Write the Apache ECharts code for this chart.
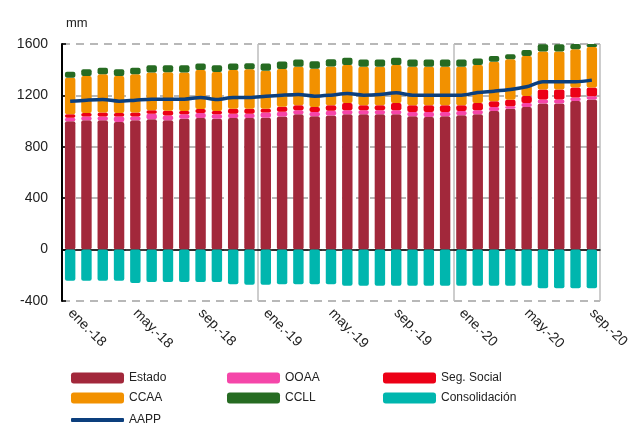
<!DOCTYPE html>
<html>
<head>
<meta charset="utf-8">
<script src="https://cdn.jsdelivr.net/npm/echarts@6/dist/echarts.min.js"></script>
<style>
  html, body { margin: 0; padding: 0; background: #fff; }
  #chart { width: 632px; height: 423px; }
</style>
</head>
<body>
<div id="chart"></div>
<script>
var months = ['ene.', 'feb.', 'mar.', 'abr.', 'may.', 'jun.', 'jul.', 'ago.', 'sep.', 'oct.', 'nov.', 'dic.'];
var categories = [];
['18', '19', '20'].forEach(function (yy) {
  months.forEach(function (m) { categories.push(m + '-' + yy); });
});
categories = categories.slice(0, 33);

var estado = [998, 1006, 1006, 993, 1006, 1014, 1006, 1019, 1024, 1019, 1024, 1024,
  1027, 1035, 1053, 1037, 1043, 1053, 1053, 1053, 1053, 1037, 1032, 1037,
  1045, 1053, 1079, 1097, 1110, 1137, 1137, 1157, 1168];
var ooaa = [29, 29, 29, 42, 29, 44, 37, 34, 39, 34, 34, 34,
  39, 37, 31, 34, 37, 31, 31, 31, 31, 34, 39, 34,
  34, 31, 31, 18, 31, 31, 31, 26, 26];
var segSocial = [26, 29, 31, 29, 31, 26, 37, 26, 31, 26, 39, 39,
  31, 39, 39, 39, 44, 57, 39, 39, 57, 52, 52, 52,
  44, 57, 44, 52, 55, 78, 78, 78, 68];
var ccaa = [285, 287, 298, 287, 298, 295, 300, 300, 303, 303, 300, 306,
  295, 295, 300, 298, 300, 295, 300, 300, 295, 300, 300, 300,
  300, 295, 308, 314, 311, 295, 295, 298, 314];
var ccll = [47, 52, 52, 52, 52, 55, 55, 55, 52, 52, 52, 47,
  57, 57, 57, 57, 57, 57, 57, 57, 57, 57, 57, 57,
  57, 52, 44, 39, 47, 57, 57, 55, 55];
var consolidacion = [-243, -243, -243, -243, -259, -253, -253, -253, -253, -253, -269, -274,
  -274, -269, -269, -269, -269, -282, -282, -282, -282, -282, -282, -282,
  -282, -282, -282, -282, -282, -300, -300, -300, -300];
var aapp = [1155, 1163, 1168, 1155, 1163, 1171, 1171, 1171, 1184, 1168, 1184, 1184,
  1194, 1202, 1207, 1194, 1202, 1215, 1202, 1207, 1220, 1202, 1202, 1202,
  1202, 1223, 1233, 1246, 1267, 1306, 1306, 1306, 1319];

var yTicks = [-400, 0, 400, 800, 1200, 1600];

var colors = {
  'Estado': '#A2283B',
  'OOAA': '#F546A9',
  'Seg. Social': '#EC0016',
  'CCAA': '#F29100',
  'CCLL': '#266B22',
  'Consolidación': '#00B6AE',
  'AAPP': '#0C3F7D'
};

var chart = echarts.init(document.getElementById('chart'));

function barSeries(name, data) {
  return {
    name: name,
    type: 'bar',
    stack: 'total',
    barWidth: '64%',
    data: data,
    itemStyle: { color: colors[name], borderRadius: 2 },
    z: 3
  };
}

function legendAt(name, left, top, isLine) {
  return {
    data: [name],
    left: left,
    top: top,
    orient: 'horizontal',
    icon: 'roundRect',
    itemWidth: 53,
    itemHeight: isLine ? 4 : 11,
    itemGap: 4,
    selectedMode: false,
    textStyle: { fontFamily: 'Liberation Sans', fontSize: 12, color: '#222' }
  };
}

var option = {
  animation: false,
  title: {
    text: 'mm',
    left: 61,
    top: 12,
    textStyle: { fontFamily: 'Liberation Sans', fontSize: 13, fontWeight: 'normal', color: '#222' }
  },
  grid: { left: 62, right: 32, top: 44, bottom: 122 },
  legend: [
    legendAt('Estado', 66, 367),
    legendAt('OOAA', 222, 367),
    legendAt('Seg. Social', 378, 367),
    legendAt('CCAA', 66, 387),
    legendAt('CCLL', 222, 387),
    legendAt('Consolidación', 378, 387),
    legendAt('AAPP', 66, 409, true)
  ],
  xAxis: {
    type: 'category',
    data: categories,
    boundaryGap: true,
    axisLine: { onZero: true, lineStyle: { color: '#000', width: 1.5 } },
    axisTick: { show: false },
    axisLabel: {
      interval: 3,
      rotate: -45,
      margin: 10,
      fontFamily: 'Liberation Sans',
      fontSize: 14,
      color: '#222'
    },
    splitLine: {
      show: true,
      interval: function (index) { return index === 12 || index === 24; },
      lineStyle: { color: '#bdbdbd', width: 1.5 }
    }
  },
  yAxis: {
    type: 'value',
    min: yTicks[0],
    max: yTicks[yTicks.length - 1],
    interval: 400,
    axisLine: { show: true, lineStyle: { color: '#000', width: 2 } },
    axisTick: { show: true, inside: true, length: 4, lineStyle: { color: '#000', width: 1.5 } },
    axisLabel: {
      fontFamily: 'Liberation Sans', fontSize: 14, color: '#222', margin: 14,
      formatter: function (v) { return String(v); }
    },
    splitLine: { lineStyle: { color: '#b8b8b8', width: 2, type: [8, 6] } }
  },
  series: [
    barSeries('Estado', estado),
    barSeries('OOAA', ooaa),
    barSeries('Seg. Social', segSocial),
    barSeries('CCAA', ccaa),
    barSeries('CCLL', ccll),
    barSeries('Consolidación', consolidacion),
    {
      name: 'AAPP',
      type: 'line',
      data: aapp,
      smooth: 0.3,
      symbol: 'none',
      lineStyle: { color: colors['AAPP'], width: 3.5 },
      itemStyle: { color: colors['AAPP'] },
      z: 5
    }
  ]
};

chart.setOption(option);
</script>
</body>
</html>
